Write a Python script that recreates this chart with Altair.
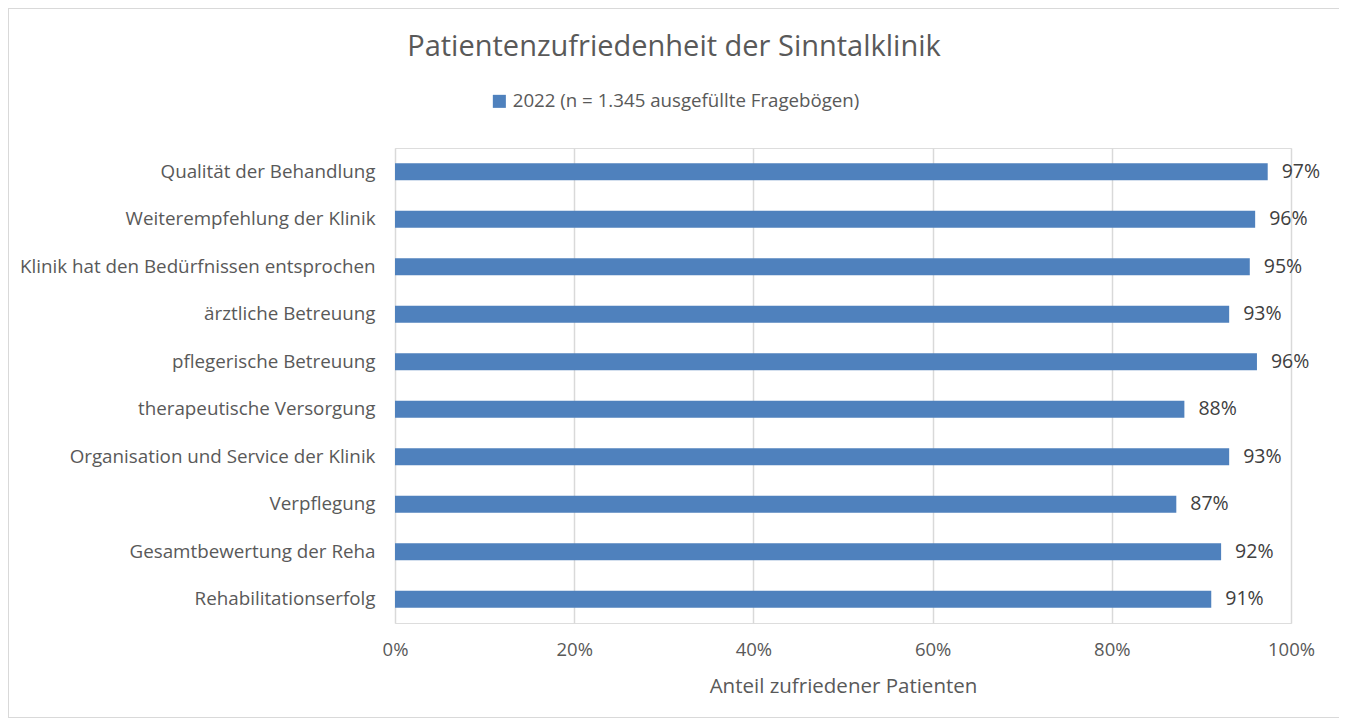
import altair as alt
import pandas as pd

categories = [
    "Qualität der Behandlung",
    "Weiterempfehlung der Klinik",
    "Klinik hat den Bedürfnissen entsprochen",
    "ärztliche Betreuung",
    "pflegerische Betreuung",
    "therapeutische Versorgung",
    "Organisation und Service der Klinik",
    "Verpflegung",
    "Gesamtbewertung der Reha",
    "Rehabilitationserfolg",
]
values = [0.974, 0.960, 0.954, 0.931, 0.962, 0.881, 0.931, 0.872, 0.922, 0.911]
series_name = "2022 (n = 1.345 ausgefüllte Fragebögen)"
chart_title = "Patientenzufriedenheit der Sinntalklinik"
x_title = "Anteil zufriedener Patienten"

df = pd.DataFrame({"Kategorie": categories, "Anteil": values, "Serie": series_name})
title_df = pd.DataFrame({"t": [chart_title]})

FONT = "Open Sans"
TXT = "#595959"

y_enc = alt.Y(
    "Kategorie:N",
    sort=categories,
    title=None,
    scale=alt.Scale(paddingInner=0.64, paddingOuter=0.32),
    axis=alt.Axis(
        labelFont=FONT, labelFontSize=18.8, labelColor=TXT, labelPadding=20,
        ticks=False, domain=False, grid=False, labelLimit=500,
    ),
)
x_enc = alt.X(
    "Anteil:Q",
    title=x_title,
    scale=alt.Scale(domain=[0, 1]),
    axis=alt.Axis(
        format=".0%", values=[0, 0.2, 0.4, 0.6, 0.8, 1.0],
        labelFont=FONT, labelFontSize=18.5, labelColor=TXT, labelPadding=17,
        labelFlush=False,
        titleFont=FONT, titleFontSize=20.5, titleColor=TXT, titleFontWeight="normal",
        titlePadding=18,
        ticks=False, domain=False, grid=True, gridColor="#d9d9d9", gridWidth=1.5,
    ),
)

bars = alt.Chart(df).mark_bar(color="#4f81bd").encode(
    x=x_enc,
    y=y_enc,
    color=alt.Color(
        "Serie:N",
        scale=alt.Scale(range=["#4f81bd"]),
        legend=alt.Legend(
            title=None, orient="none", legendX=95, legendY=-56,
            symbolType="square", symbolSize=170, symbolStrokeWidth=0,
            labelFont=FONT, labelFontSize=18.7, labelColor=TXT, labelLimit=600,
            symbolOffset=0, labelOffset=4,
        ),
    ),
)

labels = alt.Chart(df).mark_text(
    align="left", baseline="middle", dx=14, font=FONT, fontSize=19.5, color="#404040"
).encode(
    x="Anteil:Q",
    y=alt.Y("Kategorie:N", sort=categories),
    text=alt.Text("Anteil:Q", format=".0%"),
)

title = alt.Chart(title_df).mark_text(
    align="center", baseline="middle", font=FONT, fontSize=29, color=TXT
).encode(
    x=alt.value(279), y=alt.value(-101), text="t:N"
)

border = alt.Chart(df).mark_rect(
    fill=None, stroke="#d9d9d9", strokeWidth=1.5
).encode(
    x=alt.value(-387), x2=alt.value(946), y=alt.value(-140), y2=alt.value(570)
)

chart = (
    alt.layer(border, bars, labels, title)
    .properties(
        width=896,
        height=475,
        autosize=alt.AutoSizeParams(type="none"),
        padding={"left": 387, "top": 140, "right": 48, "bottom": 95},
    )
    .configure_view(stroke=None)
    .configure(background="white")
)

chart.save("out.html", embed_options={"renderer": "svg", "actions": False})
